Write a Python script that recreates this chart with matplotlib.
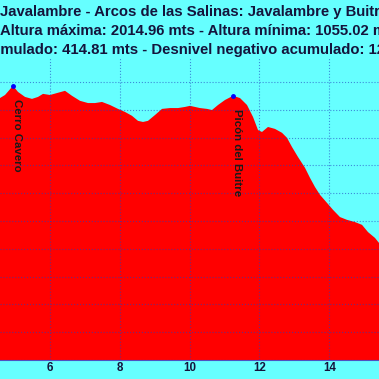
import matplotlib
matplotlib.use('Agg')
import matplotlib.pyplot as plt

# datos del perfil (km, altura en m) - tramo visible
km = [4.567, 4.711, 4.940, 5.083, 5.284, 5.484, 5.656, 5.799, 6.000, 6.201,
      6.430, 6.630, 6.860, 7.089, 7.289, 7.490, 7.719, 7.948, 8.149, 8.350,
      8.521, 8.665, 8.808, 9.009, 9.209, 9.438, 9.668, 9.868, 10.011, 10.298,
      10.499, 10.642, 10.814, 11.014, 11.244, 11.444, 11.645, 11.817, 11.960, 12.074,
      12.246, 12.447, 12.648, 12.791, 12.934, 13.106, 13.307, 13.450, 13.593, 13.736,
      13.937, 14.109, 14.309, 14.510, 14.739, 14.940, 15.112, 15.312, 15.427]
alt = [1942, 1953, 1986, 1964, 1946, 1939, 1946, 1957, 1953, 1960,
       1968, 1950, 1932, 1924, 1924, 1928, 1917, 1903, 1892, 1878,
       1860, 1856, 1860, 1881, 1903, 1906, 1906, 1910, 1914, 1906,
       1903, 1899, 1917, 1935, 1950, 1942, 1917, 1874, 1827, 1820,
       1838, 1831, 1817, 1799, 1766, 1730, 1691, 1655, 1622, 1594,
       1565, 1540, 1514, 1504, 1496, 1486, 1460, 1439, 1421]

# puntos de interes
poi_names = ['Cerro Cavero', 'Picón del Buitre']
poi_km = [4.940, 11.244]
poi_alt = [1986, 1950]

title_lines = ['Javalambre - Arcos de las Salinas: Javalambre y Buitre',
               'Altura máxima: 2014.96 mts - Altura mínima: 1055.02 mts',
               'Desnivel positivo acumulado: 414.81 mts - Desnivel negativo acumulado: 1274.35 mts']

xticks = [6, 8, 10, 12, 14]
yticks = list(range(1000, 2001, 100))

bg = '#66ffff'
txt_color = '#14143c'
title_fs = 10.75

fig = plt.figure(figsize=(3.79, 3.79), dpi=100, facecolor=bg)
ax = fig.add_axes([0, 1 - 360 / 379, 1, (360 - 58) / 379], facecolor=bg)

ax.fill_between(km, 1000, alt, color='#ff0000', lw=0, zorder=1)
ax.set_xlim(4.567, 15.427)
ax.set_ylim(1000, 2086)

ax.set_xticks(xticks)
ax.set_yticks(yticks)
ax.set_yticklabels([])
ax.tick_params(axis='both', length=0)
ax.tick_params(axis='x', pad=1.5, labelsize=8.3, labelcolor=txt_color)
for lb in ax.get_xticklabels():
    lb.set_fontweight('bold')
    lb.set_fontfamily('Liberation Sans')

ax.set_axisbelow(False)
ax.grid(True, color='#2040c0', alpha=0.6, linestyle=':', lw=0.8)

for s in ['left', 'right', 'top']:
    ax.spines[s].set_visible(False)
ax.spines['bottom'].set_color('#5050c0')
ax.spines['bottom'].set_linewidth(0.8)

# marcadores y nombres
ax.plot(poi_km, poi_alt, 'o', color='#0000ff', ms=2.5, zorder=4)
for name, x, y in zip(poi_names, poi_km, poi_alt):
    ax.annotate(name, xy=(x, y), xytext=(-1, -13), textcoords='offset pixels',
                rotation=270, ha='left', va='top', fontsize=8.2, fontweight='bold',
                family='Liberation Sans', color='#1a1a1a', zorder=5)

# titulo (recortado por los bordes, como en la imagen original)
fig.canvas.draw()
r = fig.canvas.get_renderer()
ys = [1 - 16 / 379, 1 - 35 / 379, 1 - 54 / 379]
xs = [0, -0.5 / 379, None]
for i, line in enumerate(title_lines):
    t = fig.text(0, ys[i], line, ha='left', va='baseline', fontsize=title_fs,
                 fontweight='bold', family='Liberation Sans', color=txt_color)
    if xs[i] is None:
        # desplazar para que se vea desde "mulado"
        tmp = fig.text(0, 0, 'Desnivel positivo acu', fontsize=title_fs,
                       fontweight='bold', family='Liberation Sans')
        w = tmp.get_window_extent(r).width
        tmp.remove()
        t.set_x(-w / 379)
    else:
        t.set_x(xs[i])

fig.savefig('out.png', dpi=100, facecolor=bg)
